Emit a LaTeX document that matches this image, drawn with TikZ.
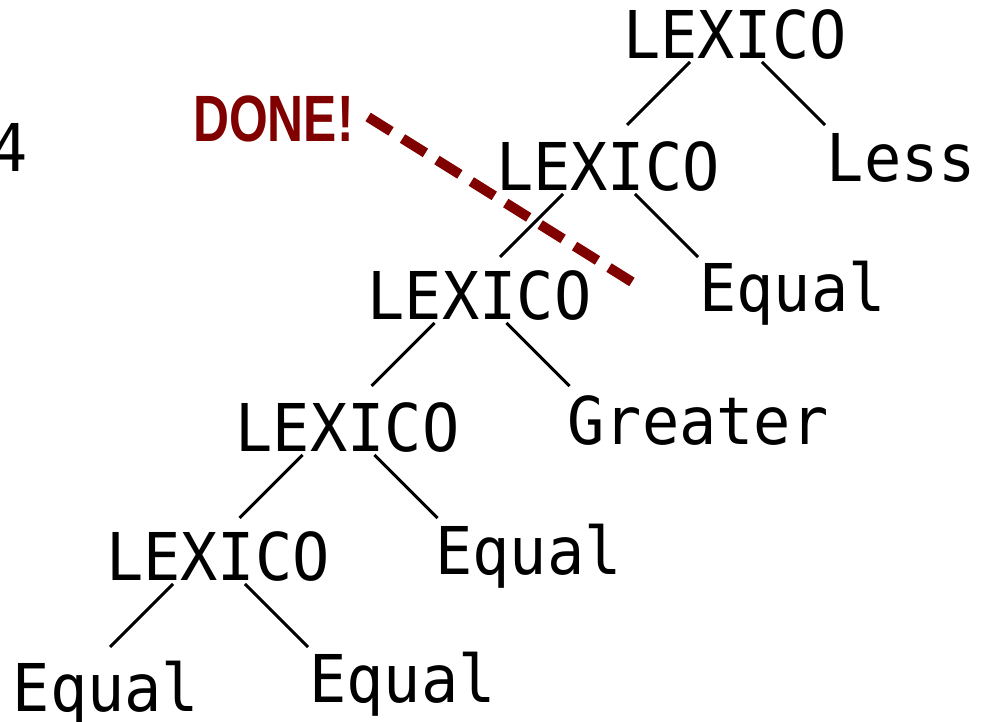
\documentclass[tikz,border=0pt]{standalone}
\usepackage{fontspec}
\newfontfamily\lexfont[FakeStretch=0.94]{DejaVu Sans Mono}
\newfontfamily\donefont[FakeStretch=0.76]{Liberation Sans}
\definecolor{donered}{RGB}{128,0,0}
\begin{document}
\begin{tikzpicture}[x=0.02cm, y=-0.02cm,
		word/.style={anchor=base, inner sep=0pt, font=\lexfont\fontsize{37.5pt}{40pt}\selectfont},
		branch/.style={line width=1.8pt}]
	\useasboundingbox (0,0) rectangle (988,722);
	
	% Draw tree words
	\node[word] (t1) at (735,59) {LEXICO};
	\node[word] (less) at (901.5,182) {Less};
	\node[word] (t2) at (608,191) {LEXICO};
	\node[word] (eq2) at (792.5,312) {Equal};
	\node[word] (t3) at (479.5,320) {LEXICO};
	\node[word] (gr) at (698,445) {Greater};
	\node[word] (t4) at (347.5,452) {LEXICO};
	\node[word] (eq4) at (528.5,575) {Equal};
	\node[word] (t5) at (218,581) {LEXICO};
	\node[word] (eqa) at (106,712) {Equal};
	\node[word] (eqb) at (402.5,703) {Equal};
	\node[word] (four) at (9.5,172) {4};
	
	% Draw branches
	\draw[branch] ([shift={(-45,3)}]t1.base) -- ([shift={(19,-66)}]t2.base);
	\draw[branch] ([shift={(27,3)}]t1.base) -- ([shift={(-76.5,-57)}]less.base);
	\draw[branch] ([shift={(-45,3)}]t2.base) -- ([shift={(20.5,-63)}]t3.base);
	\draw[branch] ([shift={(27,3)}]t2.base) -- ([shift={(-94.5,-55)}]eq2.base);
	\draw[branch] ([shift={(-45,3)}]t3.base) -- ([shift={(24,-66)}]t4.base);
	\draw[branch] ([shift={(27,3)}]t3.base) -- ([shift={(-128.5,-59)}]gr.base);
	\draw[branch] ([shift={(-45,3)}]t4.base) -- ([shift={(21.5,-63)}]t5.base);
	\draw[branch] ([shift={(27,3)}]t4.base) -- ([shift={(-91,-57)}]eq4.base);
	\draw[branch] ([shift={(-45,3)}]t5.base) -- ([shift={(4,-65)}]eqa.base);
	\draw[branch] ([shift={(27,3)}]t5.base) -- ([shift={(-94.5,-56)}]eqb.base);
	
	% Done marker
	\node[anchor=base, inner sep=0pt, text=donered, font=\donefont\bfseries\fontsize{37.3pt}{40pt}\selectfont] (done) at (273.5,142) {DONE!};
	\coordinate (cut) at (632,282);
	\draw[donered, line width=5.7pt, dash pattern=on 15.4pt off 7.7pt] ([shift={(14,-25)}]done.base east) -- (cut);
\end{tikzpicture}
\end{document}
